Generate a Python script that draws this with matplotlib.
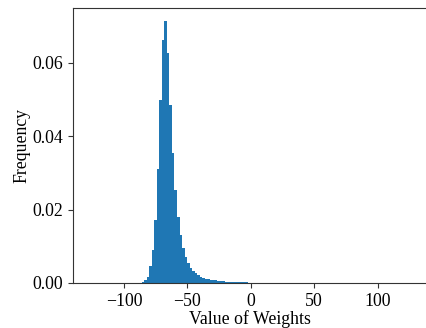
import numpy as np
import matplotlib
matplotlib.use("Agg")
import matplotlib.pyplot as plt

plt.rcParams['font.family'] = ['Liberation Serif', 'DejaVu Serif']

# 128 bins over int8 weight range [-128, 127]
bin_lo = -128
bin_hi = 127
n_bins = 128
# density heights for bins starting at index 20
start_bin = 20
heights = [0.0001, 0.0003, 0.0008, 0.0017, 0.0045, 0.009, 0.0172, 0.031,
           0.050, 0.0663, 0.0713, 0.0627, 0.0486, 0.0354, 0.0254, 0.0181,
           0.013, 0.0095, 0.0072, 0.0055, 0.0042, 0.0033, 0.0026, 0.0021,
           0.0017, 0.0014, 0.0012, 0.001, 0.0009, 0.0008, 0.0007, 0.0006,
           0.0005, 0.00045, 0.0004, 0.00035, 0.0003, 0.0003, 0.00025,
           0.00025, 0.0002, 0.0002, 0.00015, 0.00012, 0.0001, 0.00008,
           0.00006, 0.00004, 0.00003, 0.00002]
xticks = [-100, -50, 0, 50, 100]
yticks = [0.00, 0.02, 0.04, 0.06]

edges = np.linspace(bin_lo, bin_hi, n_bins + 1)
centers = 0.5 * (edges[:-1] + edges[1:])
w = np.zeros(n_bins)
w[start_bin:start_bin + len(heights)] = heights

fig = plt.figure(figsize=(4.26, 3.28), dpi=100)
ax = fig.add_axes([0.1702, 0.1372, 0.8343, 0.8375])
ax.hist(centers, bins=edges, weights=w, color='#1f77b4')
span = bin_hi - bin_lo
ax.set_xlim(bin_lo - 0.05 * span, bin_hi + 0.05 * span)
ax.set_ylim(0, max(heights) * 1.05)
ax.set_xticks(xticks)
ax.set_yticks(yticks)
ax.set_yticklabels([f"{t:.2f}" for t in yticks])
ax.tick_params(labelsize=12.8, length=3.5, width=0.8, color='#333333')
for s in ax.spines.values():
    s.set_color('#333333')
ax.set_xlabel('Value of Weights', fontsize=12.8, labelpad=0)
ax.set_ylabel('Frequency', fontsize=12.8, labelpad=1)
fig.savefig('out.png', dpi=100)
